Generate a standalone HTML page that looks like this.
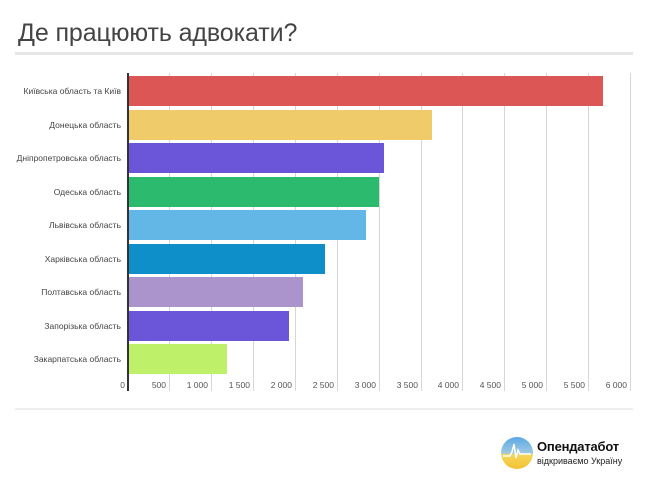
<!DOCTYPE html>
<html><head><meta charset="utf-8"><style>
body{margin:0;width:650px;height:488px;background:#fff;overflow:hidden;font-family:"Liberation Sans",sans-serif;position:relative}
.a{position:absolute}
.t{left:18px;top:19px;font-size:25px;color:#444;letter-spacing:-0.1px}
.lbl{font-size:8.5px;color:#444;text-align:right;width:118px;left:3px}
.g{width:1px;background:#d6d6d6;top:73px;height:318px}
.tk{font-size:8.5px;color:#555;text-align:right;width:40px;top:380px}
.b{left:128px;height:30px}
</style></head><body>
<div class="a t">Де працюють адвокати?</div>
<div class="a" style="left:15px;top:52px;width:618px;height:3px;background:#e6e6e6"></div>
<div class="a" style="left:15px;top:408px;width:618px;height:2px;background:#eeeeee"></div>

<div class="a g" style="left:169px"></div><div class="a g" style="left:211px"></div><div class="a g" style="left:253px"></div><div class="a g" style="left:295px"></div><div class="a g" style="left:337px"></div><div class="a g" style="left:379px"></div><div class="a g" style="left:421px"></div><div class="a g" style="left:462px"></div><div class="a g" style="left:504px"></div><div class="a g" style="left:546px"></div><div class="a g" style="left:588px"></div><div class="a g" style="left:630px"></div>

<div class="a b" style="top:76px;width:475px;background:#dc5656"></div>
<div class="a b" style="top:110px;width:304px;background:#f0cb6a"></div>
<div class="a b" style="top:143px;width:256px;background:#6b55d9"></div>
<div class="a b" style="top:177px;width:251px;background:#2bba6e"></div>
<div class="a b" style="top:210px;width:238px;background:#62b7e6"></div>
<div class="a b" style="top:244px;width:197px;background:#0f8fc9"></div>
<div class="a b" style="top:277px;width:175px;background:#ab93cc"></div>
<div class="a b" style="top:311px;width:161px;background:#6b55d9"></div>
<div class="a b" style="top:344px;width:99px;background:#bff06a"></div>
<div class="a" style="left:127px;top:73px;width:2px;height:318px;background:#333"></div>

<div class="a lbl" style="top:86px">Київська область та Київ</div>
<div class="a lbl" style="top:120px">Донецька область</div>
<div class="a lbl" style="top:153px">Дніпропетровська область</div>
<div class="a lbl" style="top:187px">Одеська область</div>
<div class="a lbl" style="top:220px">Львівська область</div>
<div class="a lbl" style="top:254px">Харківська область</div>
<div class="a lbl" style="top:287px">Полтавська область</div>
<div class="a lbl" style="top:321px">Запорізька область</div>
<div class="a lbl" style="top:354px">Закарпатська область</div>

<div class="a tk" style="left:85px">0</div>
<div class="a tk" style="left:126px">500</div>
<div class="a tk" style="left:168px">1 000</div>
<div class="a tk" style="left:210px">1 500</div>
<div class="a tk" style="left:252px">2 000</div>
<div class="a tk" style="left:294px">2 500</div>
<div class="a tk" style="left:336px">3 000</div>
<div class="a tk" style="left:378px">3 500</div>
<div class="a tk" style="left:419px">4 000</div>
<div class="a tk" style="left:461px">4 500</div>
<div class="a tk" style="left:503px">5 000</div>
<div class="a tk" style="left:545px">5 500</div>
<div class="a tk" style="left:587px">6 000</div>

<svg class="a" style="left:500px;top:436px" width="34" height="34" viewBox="0 0 34 34">
<defs><linearGradient id="lg" x1="0" y1="0" x2="0" y2="1"><stop offset="0" stop-color="#5aa8e8"/><stop offset="0.5" stop-color="#9cc9e0"/><stop offset="0.55" stop-color="#f5d65a"/><stop offset="1" stop-color="#f2c232"/></linearGradient></defs>
<circle cx="17" cy="17" r="16" fill="url(#lg)"/>
<polyline points="3,20 10,20 12,16 14,8 16,22 18,14 20,18 31,18" fill="none" stroke="#fff" stroke-width="1.5"/>
</svg>
<div class="a" style="left:537px;top:439px;font-size:13px;font-weight:bold;color:#111;letter-spacing:-0.2px">Опендатабот</div>
<div class="a" style="left:537px;top:456px;font-size:9px;color:#222">відкриваємо Україну</div>
</body></html>
